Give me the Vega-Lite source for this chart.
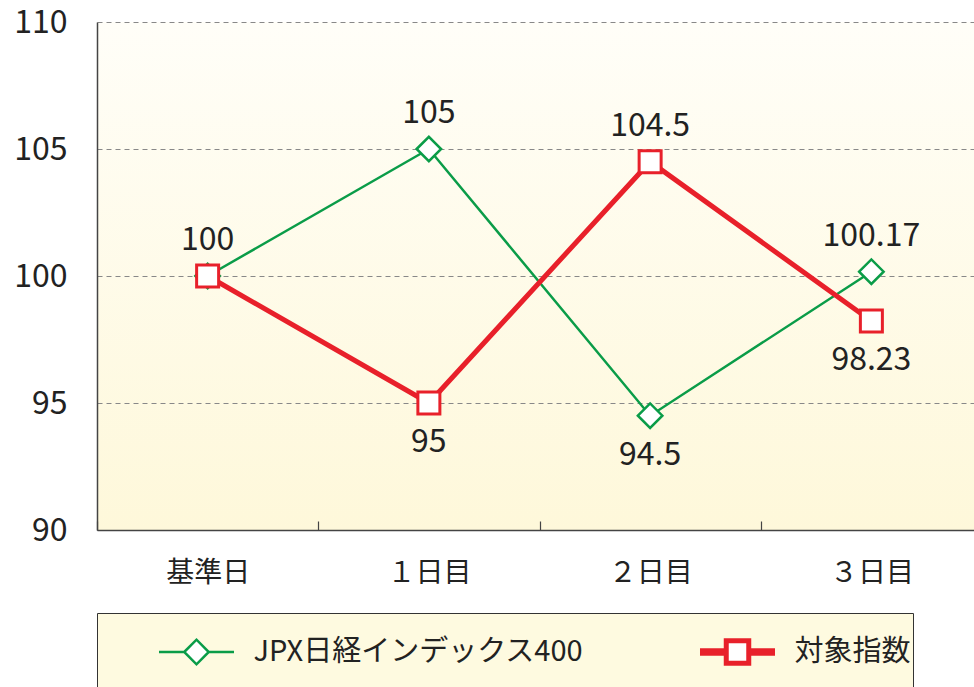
{
  "$schema": "https://vega.github.io/schema/vega-lite/v6.json",
  "width": 877,
  "height": 508,
  "autosize": {"type": "none"},
  "padding": {"left": 97, "top": 22, "right": 0, "bottom": 157},
  "background": "white",
  "config": {
    "font": "Noto Sans CJK JP",
    "view": {
      "stroke": null,
      "fill": {"gradient": "linear", "x1": 0, "y1": 0, "x2": 0, "y2": 1,
        "stops": [{"offset": 0, "color": "#fffef8"}, {"offset": 1, "color": "#fef8da"}]}
    },
    "legend": {
      "labelFontSize": 29, "labelColor": "#222", "labelOffset": 17, "symbolOffset": 58,
      "padding": 1.5, "columnPadding": 56, "fillColor": "#fefae0",
      "strokeColor": "#333", "symbolSize": 5625, "symbolStrokeWidth": 2.5,
      "symbolFillColor": "white", "labelLimit": 800, "clipHeight": 75
    }
  },
  "data": {
    "values": [
      {"day": "基準日", "series": "JPX日経インデックス400", "value": 100},
      {"day": "１日目", "series": "JPX日経インデックス400", "value": 105},
      {"day": "２日目", "series": "JPX日経インデックス400", "value": 94.5},
      {"day": "３日目", "series": "JPX日経インデックス400", "value": 100.17},
      {"day": "基準日", "series": "対象指数", "value": 100},
      {"day": "１日目", "series": "対象指数", "value": 95},
      {"day": "２日目", "series": "対象指数", "value": 104.5},
      {"day": "３日目", "series": "対象指数", "value": 98.23}
    ]
  },
  "encoding": {
    "x": {"field": "day", "type": "nominal", "sort": ["基準日", "１日目", "２日目", "３日目"],
      "scale": {"range": [0, 885], "paddingInner": 0, "paddingOuter": 0},
      "axis": {
        "title": null, "labelAngle": 0, "labelFontSize": 28, "labelColor": "#222",
        "tickBand": "extent", "tickSize": -9, "tickColor": "#444", "tickWidth": 1.2,
        "domainColor": "#444", "domainWidth": 1.5, "labelPadding": 38, "grid": false
      }},
    "y": {"field": "value", "type": "quantitative", "scale": {"domain": [90, 110], "nice": false, "zero": false},
      "axis": {
        "title": null, "values": [90, 95, 100, 105, 110], "ticks": false, "labelPadding": 30,
        "labelFontSize": 32, "labelColor": "#222", "grid": true, "gridDash": [5, 4],
        "gridColor": "#888", "gridWidth": 1, "domainColor": "#444", "domainWidth": 1.5
      }}
  },
  "layer": [
    {
      "data": {"values": [{}]},
      "mark": {"type": "rule", "color": "#444", "strokeWidth": 1.5},
      "encoding": {"x": null, "y": {"datum": 110, "type": "quantitative"}}
    },
    {
      "mark": {"type": "line"},
      "encoding": {
        "stroke": {"field": "series", "type": "nominal",
          "scale": {"domain": ["JPX日経インデックス400", "対象指数"], "range": ["#0a9c48", "#e8202a"]},
          "legend": {"orient": "none", "legendX": 0, "legendY": 591, "direction": "horizontal", "title": null,
            "columns": 2, "clipHeight": 75}},
        "strokeWidth": {"field": "series", "type": "nominal", "legend": null,
          "scale": {"domain": ["JPX日経インデックス400", "対象指数"], "range": [2.5, 5]}}
      }
    },
    {
      "transform": [{"filter": "datum.series == 'JPX日経インデックス400'"}],
      "mark": {"type": "point", "shape": "diamond", "size": 600, "filled": true, "fill": "white",
        "stroke": "#0a9c48", "strokeWidth": 2.5, "opacity": 1}
    },
    {
      "transform": [{"filter": "datum.series == '対象指数'"}],
      "mark": {"type": "point", "shape": "square", "size": 484, "filled": true, "fill": "white",
        "stroke": "#e8202a", "strokeWidth": 3, "opacity": 1}
    },
    {
      "transform": [{"filter": "false"}],
      "mark": {"type": "point", "filled": true, "fill": "white", "opacity": 1, "strokeWidth": 2.5, "size": 5625},
      "encoding": {
        "stroke": {"field": "series", "type": "nominal",
          "legend": {"orient": "none", "legendX": 0, "legendY": 591, "direction": "horizontal", "title": null,
            "columns": 2, "clipHeight": 75}},
        "shape": {"field": "series", "type": "nominal",
          "scale": {"domain": ["JPX日経インデックス400", "対象指数"],
            "range": ["M-1,0L-0.327,0M-0.327,0L0,-0.327L0.327,0L0,0.327ZM0.327,0L1,0",
                      "M-1,-0.0333L-0.3,-0.0333M-1,0.0333L-0.3,0.0333M-0.3,-0.3L0.3,-0.3L0.3,0.3L-0.3,0.3ZM0.3,-0.0333L1,-0.0333M0.3,0.0333L1,0.0333"]},
          "legend": {"orient": "none", "legendX": 0, "legendY": 591, "direction": "horizontal", "title": null,
            "columns": 2, "clipHeight": 75}}
      }
    },
    {
      "transform": [
        {"joinaggregate": [{"op": "max", "field": "value", "as": "dmax"}], "groupby": ["day"]},
        {"window": [{"op": "row_number", "as": "rn"}], "groupby": ["day", "value"]},
        {"filter": "datum.rn == 1 && datum.value == datum.dmax"}
      ],
      "mark": {"type": "text", "fontSize": 32, "color": "#222", "baseline": "alphabetic", "dy": -26},
      "encoding": {"text": {"field": "value", "type": "quantitative"}}
    },
    {
      "transform": [
        {"joinaggregate": [{"op": "max", "field": "value", "as": "dmax"}], "groupby": ["day"]},
        {"filter": "datum.value < datum.dmax"}
      ],
      "mark": {"type": "text", "fontSize": 32, "color": "#222", "baseline": "alphabetic", "dy": 49},
      "encoding": {"text": {"field": "value", "type": "quantitative"}}
    }
  ]
}
